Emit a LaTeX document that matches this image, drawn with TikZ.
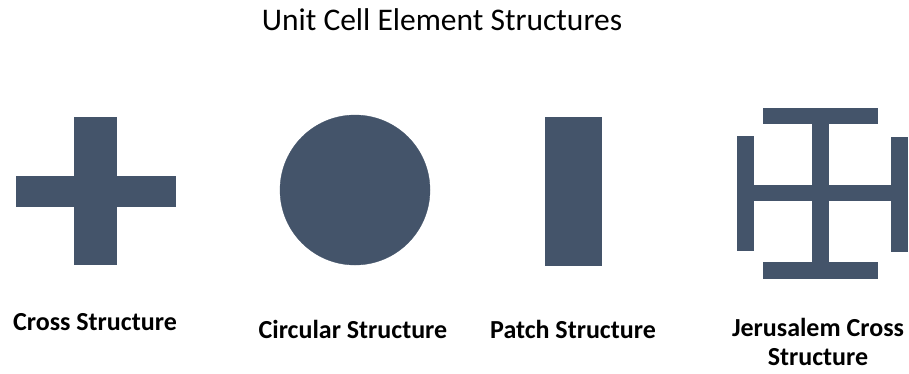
\documentclass[tikz,border=0pt]{standalone}
\usepackage{fontspec}
\setmainfont{Carlito}
\definecolor{shape}{HTML}{44546A}
\begin{document}
\begin{tikzpicture}[x=1pt,y=-1pt,
  part/.style={fill=shape,draw=shape,line width=0.3pt},
  lbl/.style={font=\fontsize{26}{29}\selectfont\bfseries,inner sep=0pt,align=center},
  ttl/.style={font=\fontsize{31.5}{36}\selectfont,inner sep=0pt}]
\useasboundingbox (0,0) rectangle (909,373);
\node[ttl] (title) at (442,20) {Unit Cell Element Structures};
% cross
\path[part] (74,117) -- (116,117) -- (116,176) -- (175,176) -- (175,206) -- (116,206)
  -- (116,264) -- (74,264) -- (74,206) -- (16,206) -- (16,176) -- (74,176) -- cycle;
% circle
\path[part] (355,190) circle (75);
% patch
\path[part] (545,117) rectangle (601,265);
% jerusalem cross
\path[part] (763,108) rectangle (877,123);
\path[part] (812,123) rectangle (828,262);
\path[part] (763,262) rectangle (877,278);
\path[part] (737,136) rectangle (753,250);
\path[part] (891,137) rectangle (907,251);
\path[part] (753,185) rectangle (891,200);
% labels
\node[lbl] (l1) at (95,322) {Cross Structure};
\node[lbl] (l2) at (353,329) {Circular Structure};
\node[lbl] (l3) at (573,329) {Patch Structure};
\node[lbl] (l4) at (818,342) {Jerusalem Cross\\Structure};
\end{tikzpicture}
\end{document}
